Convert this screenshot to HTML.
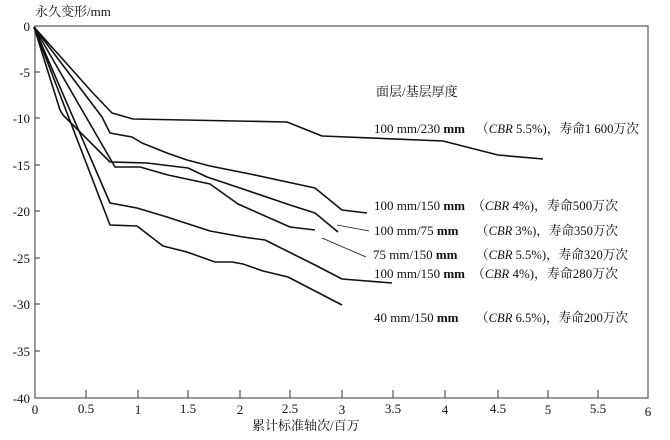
<!DOCTYPE html>
<html><head><meta charset="utf-8"><style>
body{margin:0;background:#fff}
svg{display:block}
text{font-family:"Liberation Serif","Noto Serif CJK SC",serif;fill:#111}
</style></head><body>
<svg width="670" height="440" viewBox="0 0 670 440" xmlns="http://www.w3.org/2000/svg">
<rect x="35" y="26" width="613" height="372" fill="none" stroke="#555" stroke-width="1.2"/>
<g stroke="#333" stroke-width="1">
<line x1="35" y1="72" x2="40" y2="72"/><line x1="35" y1="118" x2="40" y2="118"/><line x1="35" y1="165" x2="40" y2="165"/><line x1="35" y1="211" x2="40" y2="211"/><line x1="35" y1="258" x2="40" y2="258"/><line x1="35" y1="304" x2="40" y2="304"/><line x1="35" y1="351" x2="40" y2="351"/>
<line x1="86" y1="398" x2="86" y2="390"/><line x1="138" y1="398" x2="138" y2="390"/><line x1="188" y1="398" x2="188" y2="390"/><line x1="240" y1="398" x2="240" y2="390"/><line x1="290" y1="398" x2="290" y2="390"/><line x1="342" y1="398" x2="342" y2="390"/><line x1="393" y1="398" x2="393" y2="390"/><line x1="445" y1="398" x2="445" y2="390"/><line x1="498" y1="398" x2="498" y2="390"/><line x1="548" y1="398" x2="548" y2="390"/><line x1="598" y1="398" x2="598" y2="390"/>
</g>
<g font-size="13" text-anchor="end">
<text x="30" y="31">0</text><text x="30" y="77">-5</text><text x="30" y="123">-10</text><text x="30" y="170">-15</text><text x="30" y="216">-20</text><text x="30" y="263">-25</text><text x="30" y="309">-30</text><text x="30" y="356">-35</text><text x="30" y="403">-40</text>
</g>
<g font-size="13" text-anchor="middle">
<text x="35" y="414">0</text><text x="86" y="413">0.5</text><text x="138" y="414">1</text><text x="188" y="413">1.5</text><text x="240" y="414">2</text><text x="290" y="413">2.5</text><text x="342" y="414">3</text><text x="393" y="413">3.5</text><text x="445" y="414">4</text><text x="498" y="413">4.5</text><text x="548" y="414">5</text><text x="598" y="413">5.5</text><text x="648" y="416">6</text>
</g>
<text x="35" y="16" font-size="13">永久变形/mm</text>
<text x="252" y="430" font-size="13">累计标准轴次/百万</text>
<g fill="none" stroke="#111" stroke-width="1.6" stroke-linejoin="round">
<polyline points="34,27 92,92 112,113 133,119 287,122 322,136 443,141 498,155 543,159"/>
<polyline points="34,27 102,117 110,133 132,137 142,143 167,153 187,160 210,166 250,174 315,188 342,210 367,213"/>
<polyline points="34,27 60,110 63,115 110,162 147,163 188,168 207,177 240,188 290,205 315,213 338,232"/>
<polyline points="34,27 115,167 140,167 168,175 210,184 238,204 290,227 315,230"/>
<polyline points="34,27 110,203 137,208 167,217 210,231 243,237 265,240 315,265 342,279 392,283"/>
<polyline points="34,27 110,225 137,226 163,246 187,252 215,262 232,262 243,264 263,271 288,277 342,305"/>
</g>
<g stroke="#111" stroke-width="0.8"><line x1="337" y1="225" x2="369" y2="231"/><line x1="322" y1="238" x2="366" y2="257"/></g>
<text x="376" y="96" font-size="13">面层/基层厚度</text>
<g font-size="13">
<text x="374" y="133">100 mm/230 <tspan font-weight="bold">mm</tspan></text><text x="476" y="133" textLength="163" lengthAdjust="spacingAndGlyphs">（<tspan font-style="italic">CBR</tspan> 5.5%)，寿命1 600万次</text>
<text x="374" y="210">100 mm/150 <tspan font-weight="bold">mm</tspan></text><text x="472" y="210" textLength="146" lengthAdjust="spacingAndGlyphs">（<tspan font-style="italic">CBR</tspan> 4%)，寿命500万次</text>
<text x="374" y="235">100 mm/75 <tspan font-weight="bold">mm</tspan></text><text x="476" y="235" textLength="142" lengthAdjust="spacingAndGlyphs">（<tspan font-style="italic">CBR</tspan> 3%)，寿命350万次</text>
<text x="373" y="259">75 mm/150 <tspan font-weight="bold">mm</tspan></text><text x="476" y="259" textLength="152" lengthAdjust="spacingAndGlyphs">（<tspan font-style="italic">CBR</tspan> 5.5%)，寿命320万次</text>
<text x="374" y="278">100 mm/150 <tspan font-weight="bold">mm</tspan></text><text x="472" y="278" textLength="146" lengthAdjust="spacingAndGlyphs">（<tspan font-style="italic">CBR</tspan> 4%)，寿命280万次</text>
<text x="374" y="322">40 mm/150 <tspan font-weight="bold">mm</tspan></text><text x="476" y="322" textLength="152" lengthAdjust="spacingAndGlyphs">（<tspan font-style="italic">CBR</tspan> 6.5%)，寿命200万次</text>
</g>
</svg>
</body></html>
